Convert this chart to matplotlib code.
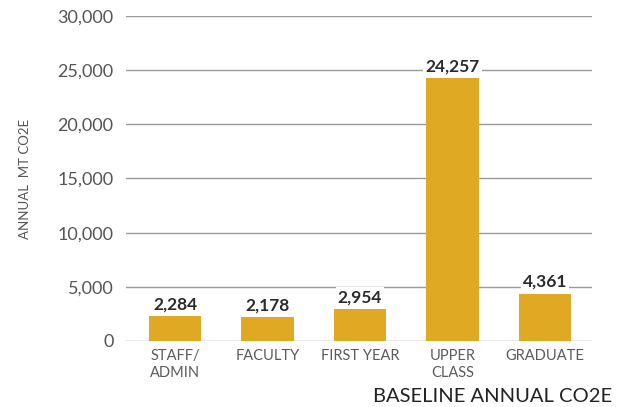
import matplotlib
matplotlib.use("Agg")
import matplotlib.pyplot as plt

categories = ["STAFF/\nADMIN", "FACULTY", "FIRST YEAR", "UPPER\nCLASS", "GRADUATE"]
values = [2284, 2178, 2954, 24257, 4361]
yticks = [0, 5000, 10000, 15000, 20000, 25000, 30000]

plt.rcParams['font.family'] = ['Lato', 'DejaVu Sans']

fig = plt.figure(figsize=(6.17, 4.07), dpi=100)
ax = fig.add_axes([0.2042, 0.1622, 0.7553, 0.7985])

x = range(len(categories))
ax.bar(x, values, width=0.57, color="#DFA924", zorder=2)

for xi, v in zip(x, values):
    ax.text(xi, v + 350, f"{v:,}", ha="center", va="bottom", fontsize=12.5,
            fontweight="bold", color="#2b2b2b", zorder=3,
            bbox=dict(facecolor="white", edgecolor="none", pad=1.5))

ax.set_xlim(-0.53, 4.51)
ax.set_ylim(0, 30000)
ax.set_yticks(yticks)
ax.set_yticklabels([f"{t:,}" for t in yticks], fontsize=13, color="#555555")
ax.set_xticks(list(x))
ax.set_xticklabels(categories, fontsize=10.5, color="#5a5a5a", linespacing=1.25)
ax.tick_params(axis="both", length=0)
ax.tick_params(axis="y", pad=9)
ax.tick_params(axis="x", pad=6)

ax.grid(axis="y", color="#999999", linewidth=1, zorder=0)
for s in ax.spines.values():
    s.set_visible(False)

ax.set_ylabel("ANNUAL  MT CO2E", fontsize=9.5, color="#555555", labelpad=19)

fig.text(0.605, 0.005, "BASELINE ANNUAL CO2E", fontsize=14.5, color="#222222",
         ha="left", va="bottom")

plt.savefig("out.png", dpi=100)
